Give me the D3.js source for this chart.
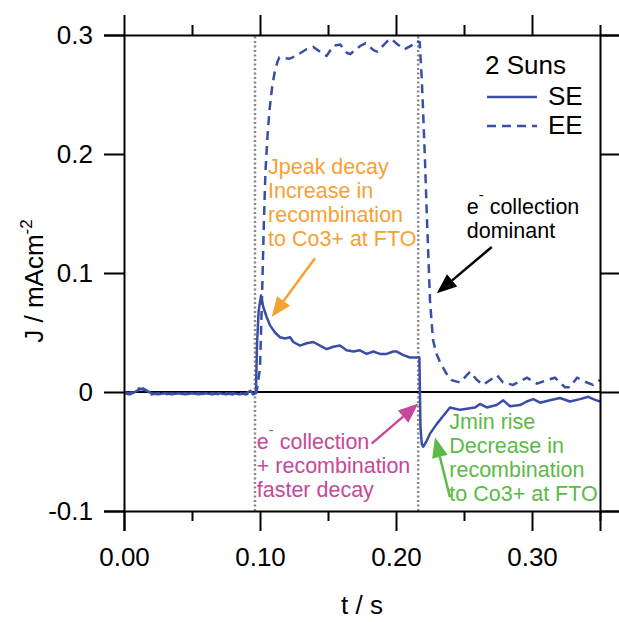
<!DOCTYPE html>
<html>
<head>
<meta charset="utf-8">
<script src="https://cdn.jsdelivr.net/npm/d3@7"></script>
<style>
  body { margin: 0; background: #fff; }
  svg text { font-family: "Liberation Sans", Arial, sans-serif; }
</style>
</head>
<body>
<div id="chart"></div>
<script>
// Photocurrent transient, 2 Suns: single-electrode (SE) vs. extracted (EE) response.

// ── Data (t in s, J in mA cm^-2) ────────────────────────────────────────────

const SE = [
  [0.000,-0.001],[0.004,-0.002],[0.008,0.000],[0.011,0.002],[0.014,0.003],[0.017,0.001],
  [0.020,-0.001],[0.025,-0.002],[0.030,-0.001],[0.035,-0.002],[0.040,-0.001],[0.045,-0.002],
  [0.050,-0.001],[0.055,-0.002],[0.060,-0.001],[0.065,-0.002],[0.070,-0.001],[0.075,-0.002],
  [0.080,-0.001],[0.085,-0.002],[0.090,-0.001],[0.093,0.001],[0.095,-0.002],[0.0970,-0.001],
  [0.0978,0.040],[0.0990,0.068],[0.1007,0.081],[0.1025,0.071],[0.1049,0.063],[0.1074,0.056],
  [0.1110,0.050],[0.1147,0.046],[0.1184,0.045],[0.1221,0.046],[0.1245,0.042],[0.1294,0.039],
  [0.1343,0.041],[0.1392,0.042],[0.1441,0.039],[0.1490,0.036],[0.1539,0.038],[0.1588,0.039],
  [0.1637,0.035],[0.1686,0.034],[0.1735,0.035],[0.1784,0.032],[0.1833,0.034],[0.1882,0.032],
  [0.1931,0.032],[0.1980,0.034],[0.2005,0.034],[0.2054,0.031],[0.2103,0.029],[0.2172,0.029],
  [0.2180,-0.030],[0.2190,-0.044],[0.2200,-0.046],[0.2226,-0.041],[0.2250,-0.035],[0.2299,-0.027],
  [0.2348,-0.020],[0.2397,-0.013],[0.2434,-0.014],[0.2471,-0.015],[0.2520,-0.014],[0.2581,-0.013],
  [0.2618,-0.010],[0.2667,-0.013],[0.2740,-0.011],[0.2789,-0.007],[0.2838,-0.012],[0.2912,-0.011],
  [0.2961,-0.008],[0.3010,-0.006],[0.3059,-0.009],[0.3132,-0.007],[0.3206,-0.005],[0.3279,-0.008],
  [0.3353,-0.006],[0.3414,-0.004],[0.3451,-0.006],[0.3500,-0.008]
];

const EE = [
  [0.000,0.000],[0.004,-0.001],[0.008,0.001],[0.011,0.003],[0.014,0.002],[0.017,0.001],
  [0.020,-0.002],[0.025,-0.001],[0.030,-0.002],[0.035,-0.001],[0.040,-0.002],[0.045,-0.001],
  [0.050,-0.002],[0.055,-0.001],[0.060,-0.002],[0.065,-0.001],[0.070,-0.002],[0.075,-0.001],
  [0.080,-0.002],[0.085,-0.001],[0.090,-0.002],[0.093,0.000],[0.0975,0.000],
  [0.1000,0.020],[0.1015,0.080],[0.1028,0.140],[0.1040,0.185],[0.1055,0.215],[0.1070,0.237],
  [0.1090,0.257],[0.1110,0.270],[0.1130,0.278],[0.1142,0.281],[0.1217,0.280],[0.1266,0.2825],
  [0.1341,0.288],[0.1391,0.290],[0.1465,0.284],[0.1490,0.2825],[0.1540,0.291],[0.1590,0.292],
  [0.1639,0.285],[0.1664,0.284],[0.1739,0.291],[0.1776,0.293],[0.1838,0.287],[0.1863,0.286],
  [0.1938,0.295],[0.1963,0.297],[0.2012,0.292],[0.2062,0.288],[0.2112,0.291],[0.2149,0.295],
  [0.2174,0.294],[0.2189,0.264],[0.2199,0.237],[0.2213,0.195],[0.2228,0.144],[0.2239,0.111],
  [0.2250,0.077],[0.2272,0.044],[0.2294,0.033],[0.2324,0.025],[0.2368,0.016],[0.2410,0.010],
  [0.2471,0.008],[0.2544,0.017],[0.2596,0.010],[0.2640,0.006],[0.2743,0.014],[0.2787,0.008],
  [0.2860,0.006],[0.2963,0.012],[0.3037,0.007],[0.3110,0.010],[0.3169,0.012],[0.3243,0.004],
  [0.3279,0.004],[0.3331,0.012],[0.3404,0.008],[0.3449,0.006],[0.3500,0.010]
];

// light on / light off markers (s)
const EVENTS = [0.0963, 0.2163];

const X_MAJOR = [0.00, 0.10, 0.20, 0.30];
const X_MINOR = [0.05, 0.15, 0.25, 0.35];
const X_LABELS = ["0.00", "0.10", "0.20", "0.30"];
const Y_TICKS = [-0.1, 0, 0.1, 0.2, 0.3];
const Y_LABELS = ["-0.1", "0", "0.1", "0.2", "0.3"];

// annotations: text anchor and arrow tail/tip in data units
const NOTES = [
  { lines: ["Jpeak decay", "Increase in", "recombination", "to Co3+ at FTO"],
    t: 0.1059, j: 0.1829, color: "#f7a135",
    arrow: [[0.1404, 0.1124], [0.1086, 0.0630]] },
  { lines: ["e|collection", "dominant"],
    t: 0.2520, j: 0.1499, color: "#000",
    arrow: [[0.2704, 0.1218], [0.2300, 0.0830]] },
  { lines: ["e|collection", "+ recombination", "faster decay"],
    t: 0.0976, j: -0.0476, color: "#c6489a",
    arrow: [[0.1821, -0.0434], [0.2164, -0.0097]] },
  { lines: ["Jmin rise", "Decrease in", "recombination", "to Co3+ at FTO"],
    t: 0.2392, j: -0.0308, color: "#5bbb46",
    arrow: [[0.2397, -0.0885], [0.2287, -0.0381]] },
];

const BLUE = "#3a4ea6";

// ── Layout ──────────────────────────────────────────────────────────────────

const W = 619, H = 622;
const X0 = 124, X1 = 600, Y0 = 511, Y1 = 35;

const x = d3.scaleLinear().domain([0, 0.35]).range([X0, X1]);
const y = d3.scaleLinear().domain([-0.1, 0.3]).range([Y0, Y1]);

const svg = d3.select("#chart").append("svg")
  .attr("width", W).attr("height", H);

svg.append("defs").append("clipPath").attr("id", "plot")
  .append("rect").attr("x", X0).attr("y", Y1).attr("width", X1 - X0).attr("height", Y0 - Y1);

// ── Event markers and zero line ─────────────────────────────────────────────

svg.append("g").selectAll("line")
  .data(EVENTS)
  .join("line")
    .attr("x1", d => x(d)).attr("x2", d => x(d))
    .attr("y1", y(-0.1)).attr("y2", y(0.3))
    .attr("stroke", "#888").attr("stroke-width", 2.5)
    .attr("stroke-dasharray", "2,2.5");

svg.append("line")
  .attr("x1", X0).attr("x2", X1)
  .attr("y1", y(0)).attr("y2", y(0))
  .attr("stroke", "#000").attr("stroke-width", 2);

// ── Traces ──────────────────────────────────────────────────────────────────

const line = d3.line().x(d => x(d[0])).y(d => y(d[1]));

const traces = svg.append("g").attr("clip-path", "url(#plot)");
traces.append("path").datum(EE)
  .attr("d", line).attr("fill", "none")
  .attr("stroke", BLUE).attr("stroke-width", 2.5)
  .attr("stroke-dasharray", "9,6");
traces.append("path").datum(SE)
  .attr("d", line).attr("fill", "none")
  .attr("stroke", BLUE).attr("stroke-width", 2.5)
  .attr("stroke-linejoin", "round");

// ── Axes (Igor-style box, outward ticks on all four sides) ──────────────────

const FONT = 26;
const xTicks = X_MAJOR.concat(X_MINOR).sort(d3.ascending);
const isMajor = d => X_MAJOR.some(m => Math.abs(m - d) < 1e-9);

function styleAxis(ax) {
  ax.select(".domain").attr("stroke-width", 2);
  ax.selectAll(".tick line").attr("stroke-width", 2);
}

svg.append("g")
  .attr("transform", `translate(0,${Y0})`)
  .call(d3.axisBottom(x).tickValues(xTicks).tickSizeOuter(0).tickSize(20)
    .tickFormat(d => isMajor(d) ? X_LABELS[X_MAJOR.findIndex(m => Math.abs(m - d) < 1e-9)] : ""))
  .call(styleAxis)
  .call(ax => ax.selectAll(".tick line").attr("y2", d => isMajor(d) ? 20 : 10))
  .call(ax => ax.selectAll(".tick text")
    .attr("y", 55).attr("dy", null)
    .style("font-size", FONT + "px").attr("fill", "#000"));

svg.append("g")
  .attr("transform", `translate(0,${Y1})`)
  .call(d3.axisTop(x).tickValues(xTicks).tickSizeOuter(0).tickFormat(""))
  .call(styleAxis)
  .call(ax => ax.selectAll(".tick line").attr("y2", d => isMajor(d) ? -20 : -10));

svg.append("g")
  .attr("transform", `translate(${X0},0)`)
  .call(d3.axisLeft(y).tickValues(Y_TICKS).tickSizeOuter(0).tickSize(20).tickPadding(11)
    .tickFormat((d, i) => Y_LABELS[i]))
  .call(styleAxis)
  .call(ax => ax.selectAll(".tick text")
    .style("font-size", FONT + "px").attr("fill", "#000"));

svg.append("g")
  .attr("transform", `translate(${X1},0)`)
  .call(d3.axisRight(y).tickValues(Y_TICKS).tickSizeOuter(0).tickSize(20).tickFormat(""))
  .call(styleAxis);

// axis titles
svg.append("text")
  .attr("x", x(0.175)).attr("y", 614)
  .attr("text-anchor", "middle")
  .style("font-size", FONT + "px")
  .text("t / s");

const yTitle = svg.append("text")
  .attr("transform", `translate(43,${y(0.1) + 8}) rotate(-90)`)
  .attr("text-anchor", "middle")
  .style("font-size", FONT + "px");
yTitle.append("tspan").text("J / mAcm");
yTitle.append("tspan").attr("dy", -11).style("font-size", "17px").text("-2");

// ── Legend ──────────────────────────────────────────────────────────────────

const legend = svg.append("g");
legend.append("text").attr("x", 485).attr("y", 74)
  .style("font-size", "26px").text("2 Suns");
[["SE", null, 97], ["EE", "9,6", 126]].forEach(([name, dash, ly]) => {
  legend.append("line")
    .attr("x1", 487).attr("x2", 537).attr("y1", ly).attr("y2", ly)
    .attr("stroke", BLUE).attr("stroke-width", 2.5)
    .attr("stroke-dasharray", dash);
  legend.append("text").attr("x", 548).attr("y", ly + 8)
    .style("font-size", "26px").text(name);
});

// ── Annotations ─────────────────────────────────────────────────────────────

const NOTE_FONT = 21.5, NOTE_STEP = 24;

NOTES.forEach(n => {
  const g = svg.append("g").attr("fill", n.color);
  n.lines.forEach((txt, i) => {
    const t = g.append("text")
      .attr("x", x(n.t)).attr("y", y(n.j) + i * NOTE_STEP)
      .style("font-size", NOTE_FONT + "px");
    if (txt.includes("|")) {
      const [a, b] = txt.split("|");
      t.append("tspan").text(a);
      t.append("tspan").attr("dy", -14).style("font-size", "15px").text("-");
      t.append("tspan").attr("dy", 14).text(" " + b);
    } else {
      t.text(txt);
    }
  });

  const [[tx, ty], [hx, hy]] = n.arrow;
  const x1 = x(tx), y1 = y(ty), x2 = x(hx), y2 = y(hy);
  const ang = Math.atan2(y2 - y1, x2 - x1);
  const L = 20, Wd = 8;
  const bx = x2 - L * Math.cos(ang), by = y2 - L * Math.sin(ang);
  g.append("line")
    .attr("x1", x1).attr("y1", y1).attr("x2", bx).attr("y2", by)
    .attr("stroke", n.color).attr("stroke-width", 2.5);
  g.append("path")
    .attr("d", `M${x2},${y2}L${bx + Wd * Math.sin(ang)},${by - Wd * Math.cos(ang)}` +
               `L${bx - Wd * Math.sin(ang)},${by + Wd * Math.cos(ang)}Z`)
    .attr("fill", n.color);
});
</script>
</body>
</html>
